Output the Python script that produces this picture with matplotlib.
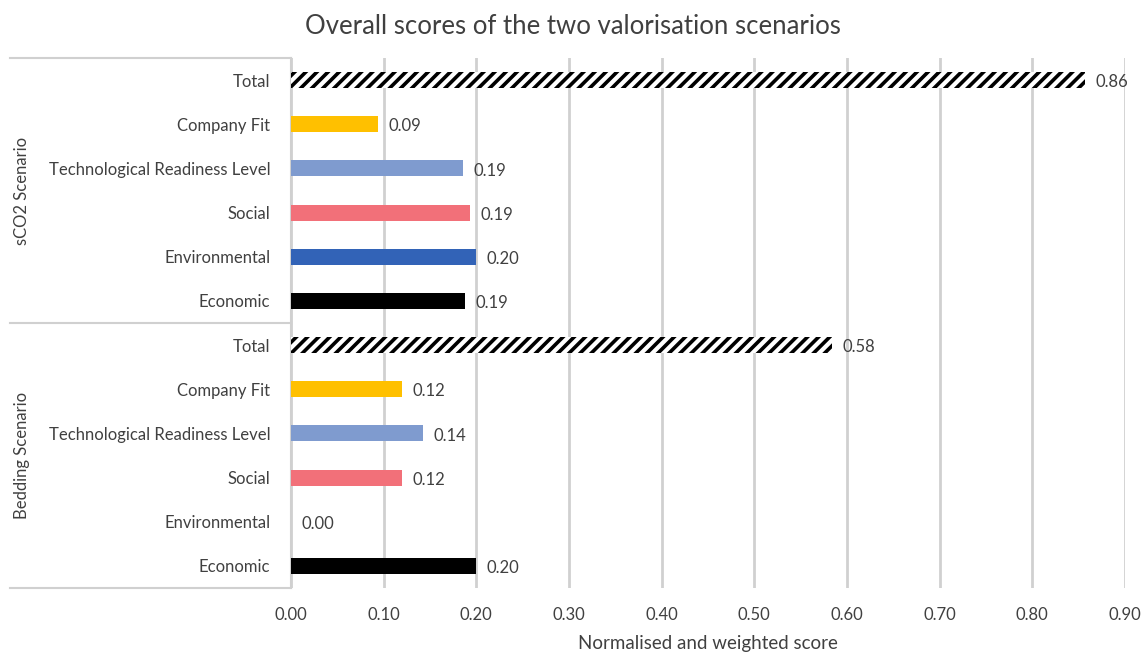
import matplotlib
matplotlib.use("Agg")
import matplotlib.pyplot as plt
import numpy as np

plt.rcParams['font.family'] = ['Lato', 'DejaVu Sans']
plt.rcParams['hatch.linewidth'] = 2.6

# --- Data ---
groups = ["sCO2 Scenario", "Bedding Scenario"]
categories = ["Total", "Company Fit", "Technological Readiness Level",
              "Social", "Environmental", "Economic"]
sco2_scores = [0.857, 0.094, 0.186, 0.193, 0.200, 0.188]
bedding_scores = [0.584, 0.120, 0.143, 0.120, 0.000, 0.200]
score_labels_sco2 = ["0.86", "0.09", "0.19", "0.19", "0.20", "0.19"]
score_labels_bedding = ["0.58", "0.12", "0.14", "0.12", "0.00", "0.20"]
xticks = np.arange(0, 0.91, 0.1)

COLORS = {
    "Total": "white",
    "Company Fit": "#FFC000",
    "Technological Readiness Level": "#7F9BCF",
    "Social": "#F27079",
    "Environmental": "#3263B7",
    "Economic": "#000000",
}
TEXT = "#404040"
FS = 12

fig = plt.figure(figsize=(11.46, 6.53), dpi=100)
ax = fig.add_axes([0.2539, 0.0995, 0.9817 - 0.2539, 0.9112 - 0.0995])

n = len(categories)
values = sco2_scores + bedding_scores
texts = score_labels_sco2 + score_labels_bedding
cats = categories + categories
ypos = np.arange(2 * n)

for y, v, c, t in zip(ypos, values, cats, texts):
    if c == "Total":
        ax.barh(y, v, height=0.36, color="white", edgecolor="black",
                hatch="///", linewidth=0, zorder=3)
    else:
        ax.barh(y, v, height=0.36, color=COLORS[c], linewidth=0, zorder=3)
    ax.text(v + 0.011, y + 0.05, t, va="center", ha="left",
            fontsize=FS, color=TEXT)

ax.set_ylim(2 * n - 0.5, -0.5)
ax.set_xlim(0, 0.9)
ax.set_yticks(ypos)
ax.set_yticklabels(cats, fontsize=FS, color=TEXT)
ax.set_xticks(xticks)
ax.set_xticklabels([f"{x:.2f}" for x in xticks], fontsize=FS, color=TEXT)
ax.tick_params(axis="y", length=0, pad=15)
ax.tick_params(axis="x", length=0, pad=14)

ax.grid(axis="x", color="#D0D0D0", linewidth=2, zorder=0)
for s in ["top", "right", "bottom"]:
    ax.spines[s].set_visible(False)
ax.spines["left"].set_color("#D0D0D0")
ax.spines["left"].set_linewidth(1.5)

# group separators and labels on the category axis
trans = ax.get_yaxis_transform()
sep_x0 = -(291 - 10) / (1125 - 291)
for yb in [-0.5, n - 0.5, 2 * n - 0.5]:
    ax.plot([sep_x0, 0], [yb, yb], transform=trans, color="#D0D0D0",
            linewidth=1.5, clip_on=False)
label_x = -(291 - 22) / (1125 - 291)
for i, g in enumerate(groups):
    ax.text(label_x, i * n + (n - 1) / 2, g, transform=trans, rotation=90,
            va="center", ha="center", fontsize=FS, color=TEXT)

ax.set_xlabel("Normalised and weighted score", fontsize=13.5, color=TEXT,
              labelpad=8)
fig.suptitle("Overall scores of the two valorisation scenarios", fontsize=18.5,
             color=TEXT, y=0.978)

fig.savefig("out.png", dpi=100)
